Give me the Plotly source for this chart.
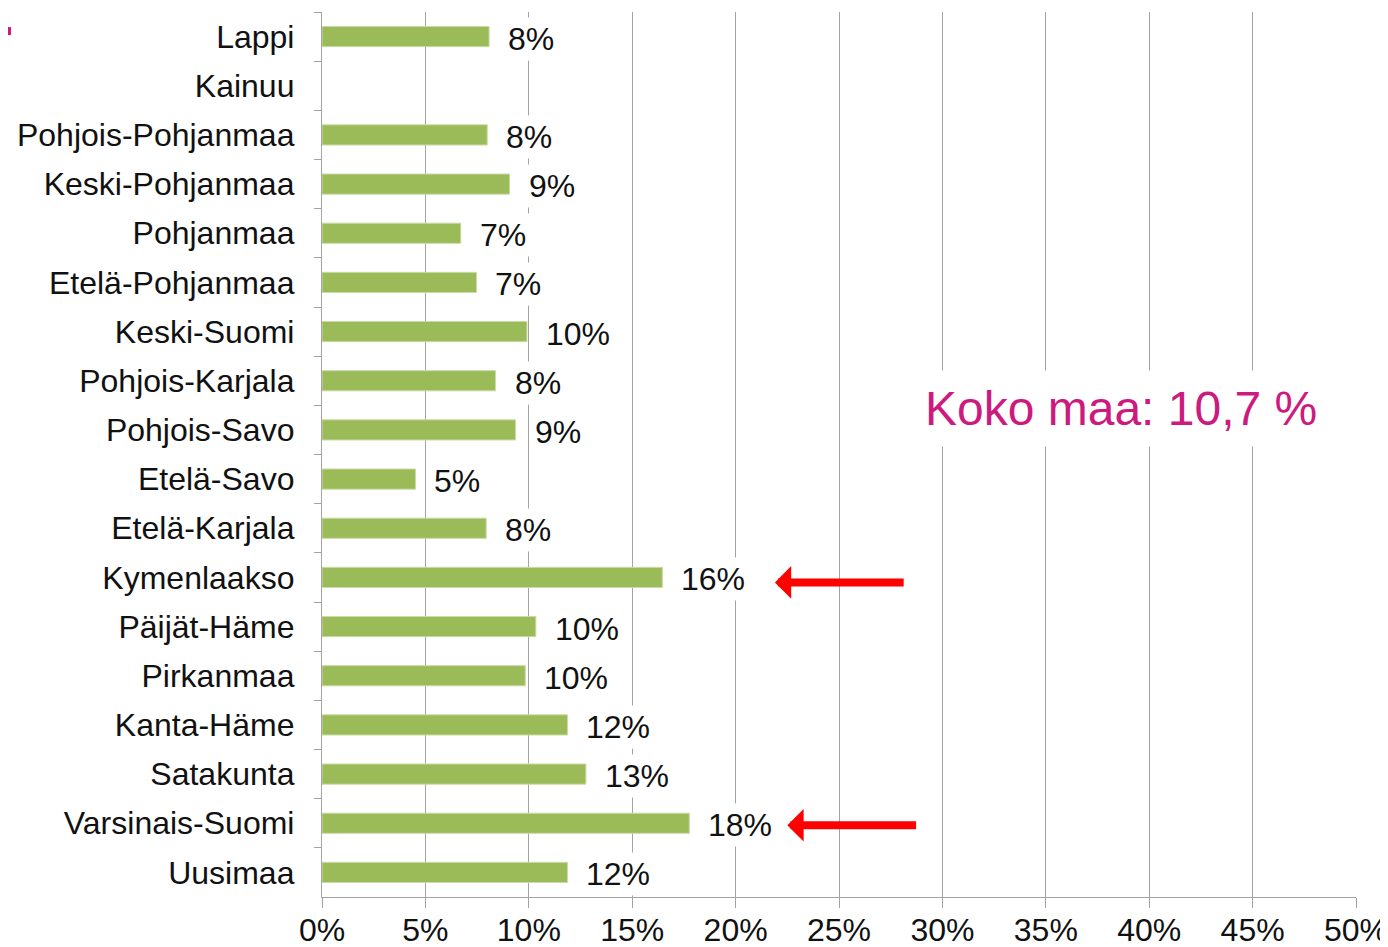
import plotly.graph_objects as go

regions = [
    "Lappi", "Kainuu", "Pohjois-Pohjanmaa", "Keski-Pohjanmaa", "Pohjanmaa",
    "Etelä-Pohjanmaa", "Keski-Suomi", "Pohjois-Karjala", "Pohjois-Savo",
    "Etelä-Savo", "Etelä-Karjala", "Kymenlaakso", "Päijät-Häme", "Pirkanmaa",
    "Kanta-Häme", "Satakunta", "Varsinais-Suomi", "Uusimaa",
]
shares = [
    8.08, None, 7.99, 9.07, 6.71,
    7.47, 9.91, 8.39, 9.36,
    4.52, 7.94, 16.46, 10.34, 9.83,
    11.87, 12.76, 17.76, 11.87,
]
value_labels = [
    "8%", "", "8%", "9%", "7%",
    "7%", "10%", "8%", "9%",
    "5%", "8%", "16%", "10%", "10%",
    "12%", "13%", "18%", "12%",
]
x_ticks = [0, 5, 10, 15, 20, 25, 30, 35, 40, 45, 50]
x_tick_labels = [f"{t}%" for t in x_ticks]

national_text = "Koko maa: 10,7 %"
highlighted = ["Kymenlaakso", "Varsinais-Suomi"]

FONT = "Arial, Liberation Sans, sans-serif"
TXT = "#111111"
GRID = "#a3a3a3"
BAR = "#9bbb59"
MAGENTA = "#cc1a7f"

fig = go.Figure(
    go.Bar(
        y=regions,
        x=shares,
        orientation="h",
        width=0.41,
        marker=dict(color=BAR, line=dict(color="#c9dba6", width=1)),
        hoverinfo="skip",
    )
)

annotations = []
for reg, val, lab in zip(regions, shares, value_labels):
    if val is None:
        continue
    annotations.append(dict(
        x=val, y=reg, xref="x", yref="y", text=lab, showarrow=False,
        xanchor="left", yanchor="middle", xshift=15, yshift=-2,
        font=dict(family=FONT, size=32, color=TXT),
        bgcolor="white", borderpad=3,
    ))

annotations.append(dict(
    x=0.7727, y=0.552, xref="paper", yref="paper", text=national_text,
    showarrow=False, xanchor="center", yanchor="middle",
    font=dict(family=FONT, size=48, color=MAGENTA),
    bgcolor="white", borderpad=11,
))

arrow_specs = [
    (highlighted[0], 21.9, 28.2, -5),
    (highlighted[1], 22.5, 28.8, -2),
]
for reg, tip, tail, ysh in arrow_specs:
    annotations.append(dict(
        x=tip, y=reg, xref="x", yref="y",
        ax=tail, ay=reg, axref="x", ayref="y",
        text="", showarrow=True, arrowhead=1, arrowsize=0.68,
        arrowwidth=8, arrowcolor="#ff0000", yshift=ysh, standoff=0,
    ))

fig.update_layout(
    width=1388, height=939,
    margin=dict(l=314, r=40, t=4, b=50, autoexpand=False),
    paper_bgcolor="white", plot_bgcolor="white",
    showlegend=False,
    font=dict(family=FONT, size=32, color=TXT),
    annotations=annotations,
    shapes=[dict(type="rect", xref="paper", yref="paper",
                 x0=-0.3037, x1=-0.3008, y0=0.974, y1=0.983,
                 fillcolor=MAGENTA, line=dict(width=0))],
    bargap=0.59,
)

fig.update_xaxes(
    range=[0, 50], tickvals=x_ticks, ticktext=x_tick_labels,
    showgrid=True, gridcolor=GRID, gridwidth=1.3,
    showline=True, linecolor=GRID, linewidth=1.3,
    ticks="outside", ticklen=10, tickcolor=GRID, tickwidth=1.3,
    zeroline=False, fixedrange=True, automargin=False,
    ticklabeloverflow="allow", ticklabelstandoff=-6,
    tickfont=dict(family=FONT, size=32, color=TXT),
)
fig.update_yaxes(
    categoryorder="array", categoryarray=regions, autorange="reversed",
    showgrid=False, showline=True, linecolor=GRID, linewidth=1.3,
    ticks="outside", ticklen=7, tickcolor=GRID, tickwidth=1.3,
    tickson="boundaries", ticklabelstandoff=20, automargin=False,
    tickfont=dict(family=FONT, size=32, color=TXT),
    fixedrange=True,
)

fig.write_html("out.html")
